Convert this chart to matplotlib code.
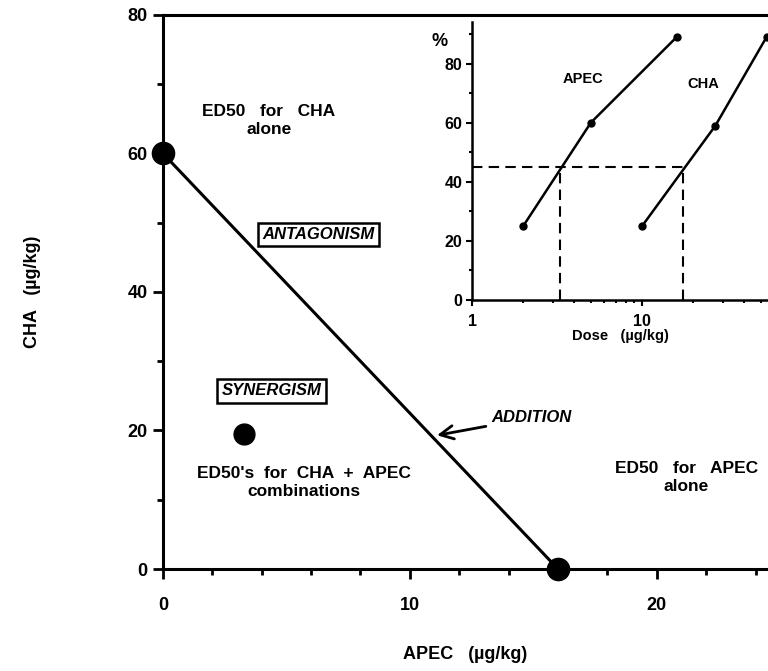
import matplotlib

matplotlib.use("Agg")
import matplotlib.pyplot as plt
from matplotlib.ticker import MultipleLocator, FixedLocator, NullFormatter

plt.rcParams["font.family"] = ["Liberation Sans", "DejaVu Sans"]
plt.rcParams["font.weight"] = "bold"

# isobologram: ED50 of each drug alone and of the combination
apec_alone = [0, 16]
cha_alone = [60, 0]
combo_apec = [3.3]
combo_cha = [19.5]

# inset dose-response curves (% effect vs dose, log scale)
apec_dose = [2, 5, 16]
apec_pct = [25, 60, 89]
cha_dose = [10, 27, 54]
cha_pct = [25, 59, 89]
level_pct = 45
apec_ed = 3.3
cha_ed = 17.5

fig = plt.figure(figsize=(7.68, 6.71), dpi=100)
ax = fig.add_axes([0.212, 0.152, 0.788, 0.826])

ax.plot(apec_alone, cha_alone, color="black", lw=2.2, zorder=3, clip_on=False)
ax.plot(apec_alone, cha_alone, "o", color="black", ms=16, zorder=4, clip_on=False)
ax.plot(combo_apec, combo_cha, "o", color="black", ms=15, zorder=4)

ax.set_xlim(0, 24.5)
ax.set_ylim(0, 80)
ax.xaxis.set_major_locator(MultipleLocator(10))
ax.xaxis.set_minor_locator(MultipleLocator(2))
ax.yaxis.set_major_locator(MultipleLocator(20))
ax.yaxis.set_minor_locator(MultipleLocator(10))
ax.spines["right"].set_visible(False)
for s in ("left", "bottom", "top"):
    ax.spines[s].set_linewidth(2.2)
ax.tick_params(which="major", direction="out", length=7, width=2, labelsize=13, pad=13)
ax.tick_params(which="minor", direction="out", length=4, width=2)
ax.tick_params(axis="y", pad=4)
for lbl in ax.get_xticklabels() + ax.get_yticklabels():
    lbl.set_fontweight("bold")

ax.set_xlabel("APEC   (\u00b5g/kg)", fontsize=13, fontweight="bold", labelpad=23)
ax.set_ylabel("CHA   (\u00b5g/kg)", fontsize=13, fontweight="bold", labelpad=62)

txt = dict(ha="center", va="center", fontsize=12.5, fontweight="bold", linespacing=1.25)
ax.text(4.3, 64.8, "ED50   for   CHA\nalone", **txt)
ax.text(5.7, 12.5, "ED50's  for  CHA  +  APEC\ncombinations", **txt)
ax.text(21.2, 13.2, "ED50   for   APEC\nalone", **txt)

box = dict(boxstyle="square,pad=0.25", facecolor="white", edgecolor="black", lw=1.8)
ax.text(6.3, 48.3, "ANTAGONISM", ha="center", va="center", fontsize=12,
        style="italic", fontweight="bold", bbox=box)
ax.text(4.4, 25.7, "SYNERGISM", ha="center", va="center", fontsize=12,
        style="italic", fontweight="bold", bbox=box)

ax.annotate("ADDITION", xy=(11.1, 19.3), xytext=(13.3, 21.8),
            fontsize=12, style="italic", fontweight="bold", ha="left", va="center",
            arrowprops=dict(arrowstyle="->,head_length=0.8,head_width=0.4",
                            color="black", lw=2, shrinkA=2, shrinkB=0))

# inset: log-dose response curves
ins = fig.add_axes([0.6146, 0.553, 0.3854, 0.414])
ins.set_xscale("log")
ins.plot(apec_dose, apec_pct, "o-", color="black", lw=1.8, ms=5, clip_on=False)
ins.plot(cha_dose, cha_pct, "o-", color="black", lw=1.8, ms=5, clip_on=False)
ins.plot([1, cha_ed], [level_pct, level_pct], "--", color="black", lw=1.5, dashes=(5, 3))
ins.plot([apec_ed, apec_ed], [0, level_pct], "--", color="black", lw=1.5, dashes=(5, 3))
ins.plot([cha_ed, cha_ed], [0, level_pct], "--", color="black", lw=1.5, dashes=(5, 3))

ins.set_xlim(1, 55)
ins.set_ylim(0, 94)
ins.spines["right"].set_visible(False)
ins.spines["top"].set_visible(False)
ins.spines["left"].set_linewidth(1.8)
ins.spines["bottom"].set_linewidth(1.8)
ins.xaxis.set_major_locator(FixedLocator([1, 10]))
ins.xaxis.set_major_formatter(plt.FuncFormatter(lambda v, p: f"{v:g}"))
ins.xaxis.set_minor_locator(FixedLocator([2, 3, 4, 5, 6, 7, 8, 9, 20, 30, 40, 50]))
ins.xaxis.set_minor_formatter(NullFormatter())
ins.yaxis.set_major_locator(MultipleLocator(20))
ins.yaxis.set_minor_locator(MultipleLocator(10))
ins.tick_params(which="major", direction="out", length=4, width=1.5, labelsize=11.5, pad=3)
ins.tick_params(which="minor", direction="out", length=2.5, width=1.5)
ins.tick_params(axis="x", pad=6)
for lbl in ins.get_xticklabels() + ins.get_yticklabels():
    lbl.set_fontweight("bold")
ins.set_xlabel("Dose   (\u00b5g/kg)", fontsize=10.5, fontweight="bold", labelpad=0)
ins.text(-0.11, 0.93, "%", transform=ins.transAxes, fontsize=13, fontweight="bold",
         ha="center", va="center")
ins.text(4.5, 74.6, "APEC", fontsize=10.5, fontweight="bold", ha="center", va="center")
ins.text(23, 73, "CHA", fontsize=10.5, fontweight="bold", ha="center", va="center")

fig.savefig("out.png", dpi=100)
